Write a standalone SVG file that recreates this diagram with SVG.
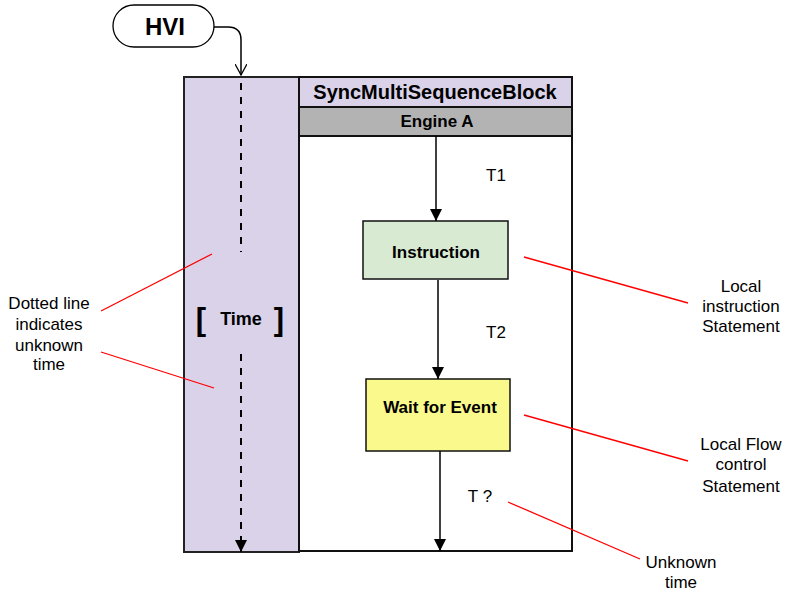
<svg xmlns="http://www.w3.org/2000/svg" width="785" height="592" viewBox="0 0 785 592">
<style>
text{font-family:"Liberation Sans",Arial,sans-serif;fill:#000}
.b{font-weight:bold}
.lab{font-size:17px;text-anchor:middle}
.ann{stroke:#ff0000;stroke-width:1.3;fill:none}
.con{stroke:#000;stroke-width:1.5;fill:none}
</style>
<defs>
<marker id="fa" viewBox="0 0 12 12" markerWidth="12" markerHeight="12" refX="12" refY="6" orient="auto" markerUnits="userSpaceOnUse">
<path d="M0,0 L12,6 L0,12 Z" fill="#000"/>
</marker>
<marker id="oa" viewBox="0 0 12 12" markerWidth="12" markerHeight="12" refX="11" refY="6" orient="auto" markerUnits="userSpaceOnUse">
<path d="M0,0 L11,6 L0,12" fill="none" stroke="#000" stroke-width="1.3"/>
</marker>
</defs>

<g id="time-lane">
<rect x="184" y="77" width="115" height="475" fill="#d9d2e9" stroke="#222" stroke-width="2"/>
<text x="241" y="325" class="b" font-size="18" text-anchor="middle">Time</text>
<text x="201" y="330" class="b" font-size="31" text-anchor="middle">[</text>
<text x="279" y="330" class="b" font-size="31" text-anchor="middle">]</text>
</g>

<g id="block">
<rect x="299" y="77" width="273" height="474" fill="#fff" stroke="#111" stroke-width="2"/>
<rect x="299" y="77" width="273" height="30" fill="#d9d2e9" stroke="#111" stroke-width="2"/>
<text x="435" y="99" class="b" font-size="20" text-anchor="middle">SyncMultiSequenceBlock</text>
</g>

<g id="engine-a">
<rect x="299" y="107" width="273" height="29" fill="#b3b3b3" stroke="#111" stroke-width="2"/>
<text x="437" y="127" class="b" font-size="17" text-anchor="middle">Engine A</text>
</g>

<g id="hvi">
<rect x="113" y="5" width="101" height="42" rx="21" ry="21" fill="#fff" stroke="#000" stroke-width="1.3"/>
<text x="165" y="35" class="b" font-size="24" text-anchor="middle">HVI</text>
</g>

<g id="instruction">
<rect x="363" y="221" width="145" height="58" fill="#d9ead3" stroke="#111" stroke-width="1.5"/>
<text x="436" y="258" class="b" font-size="17" text-anchor="middle">Instruction</text>
</g>

<g id="wait-for-event">
<rect x="366" y="379" width="144" height="72" fill="#f9f98c" stroke="#111" stroke-width="1.5"/>
<text x="440" y="413" class="b" font-size="17" text-anchor="middle">Wait for Event</text>
</g>

<g id="connectors">
<path d="M214,27 H228 Q241,27 241,40 V75" class="con" stroke-width="1.3" marker-end="url(#oa)"/>
<line x1="241" y1="83" x2="241" y2="252" stroke="#000" stroke-width="2" stroke-dasharray="7,7"/>
<line x1="241" y1="354" x2="241" y2="552" stroke="#000" stroke-width="2" stroke-dasharray="7,7" marker-end="url(#fa)"/>
<line x1="436" y1="136" x2="436" y2="221" class="con" marker-end="url(#fa)"/>
<line x1="438" y1="280" x2="438" y2="379" class="con" marker-end="url(#fa)"/>
<line x1="440" y1="451" x2="440" y2="551" class="con" marker-end="url(#fa)"/>
<line x1="101" y1="311" x2="212" y2="254" class="ann"/>
<line x1="101" y1="352" x2="214" y2="388" class="ann"/>
<line x1="524" y1="257" x2="688" y2="303" class="ann"/>
<line x1="524" y1="415" x2="688" y2="461" class="ann"/>
<line x1="508" y1="502" x2="640" y2="559" class="ann"/>
</g>

<g id="labels">
<text x="496" y="181" font-size="17" text-anchor="middle">T1</text>
<text x="496" y="338" font-size="17" text-anchor="middle">T2</text>
<text x="480" y="502" font-size="17" text-anchor="middle">T ?</text>
<text class="lab" x="49" y="309">Dotted line</text>
<text class="lab" x="49" y="330">indicates</text>
<text class="lab" x="49" y="351">unknown</text>
<text class="lab" x="49" y="370">time</text>
<text class="lab" x="741" y="292">Local</text>
<text class="lab" x="741" y="312">instruction</text>
<text class="lab" x="741" y="332">Statement</text>
<text class="lab" x="741" y="450">Local Flow</text>
<text class="lab" x="741" y="470">control</text>
<text class="lab" x="741" y="492">Statement</text>
<text class="lab" x="681" y="568">Unknown</text>
<text class="lab" x="681" y="588">time</text>
</g>
</svg>
